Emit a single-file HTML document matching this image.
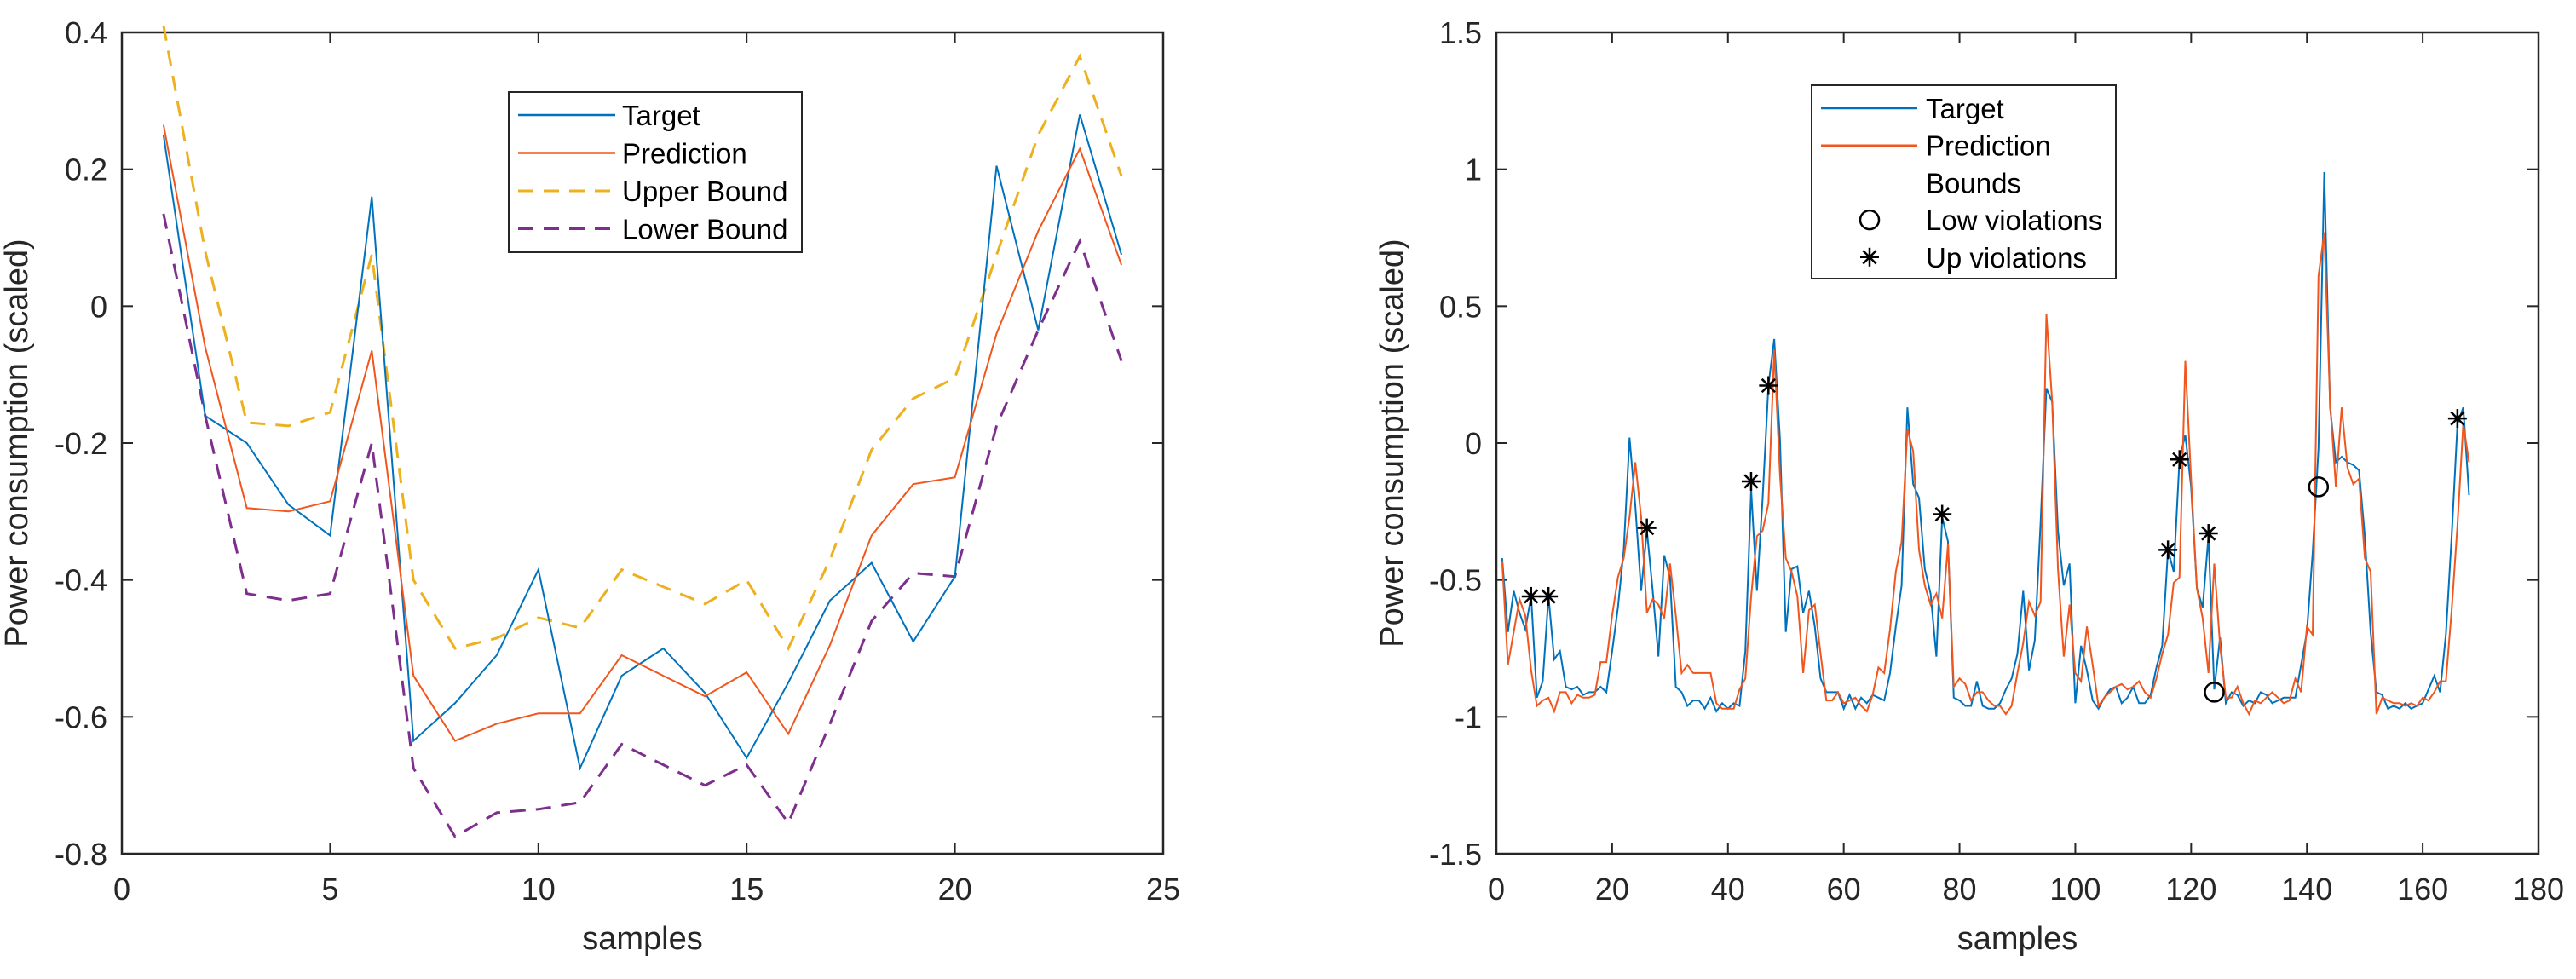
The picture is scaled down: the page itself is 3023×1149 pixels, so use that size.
<!DOCTYPE html>
<html><head><meta charset="utf-8"><style>
html,body{margin:0;padding:0;background:#fff;}
svg{display:block;font-family:"Liberation Sans",Arial,sans-serif;}
</style></head><body>
<svg id="fig" width="3023" height="1149" viewBox="0 0 3023 1149" xmlns="http://www.w3.org/2000/svg">
<rect width="3023" height="1149" fill="#fff"/>
<g id="left"></g>
<g id="right"></g>
</svg>
<script>
// ---- Left chart data ----
const leftSamples = [1,2,3,4,5,6,7,8,9,10,11,12,13,14,15,16,17,18,19,20,21,22,23,24];
const leftTarget = [0.25,-0.16,-0.2,-0.29,-0.335,0.16,-0.635,-0.58,-0.51,-0.385,-0.675,-0.54,-0.5,-0.565,-0.66,-0.55,-0.43,-0.375,-0.49,-0.395,0.205,-0.035,0.28,0.075];
const leftPrediction = [0.265,-0.06,-0.295,-0.3,-0.285,-0.065,-0.54,-0.635,-0.61,-0.595,-0.595,-0.51,-0.54,-0.57,-0.535,-0.625,-0.495,-0.335,-0.26,-0.25,-0.04,0.11,0.23,0.06];
const leftUpper = [0.41,0.08,-0.17,-0.175,-0.155,0.075,-0.4,-0.5,-0.485,-0.455,-0.47,-0.385,-0.41,-0.435,-0.4,-0.5,-0.37,-0.21,-0.135,-0.105,0.075,0.25,0.365,0.19];
const leftLower = [0.135,-0.16,-0.42,-0.43,-0.42,-0.2,-0.675,-0.775,-0.74,-0.735,-0.725,-0.64,-0.67,-0.7,-0.67,-0.755,-0.61,-0.46,-0.39,-0.395,-0.175,-0.035,0.095,-0.08];
const leftXTicks = [0,5,10,15,20,25];
const leftYTicks = [0.4,0.2,0,-0.2,-0.4,-0.6,-0.8];
const leftYLabels = ["0.4","0.2","0","-0.2","-0.4","-0.6","-0.8"];

// ---- Right chart data ----
const rightTarget = [-0.42,-0.69,-0.54,-0.62,-0.68,-0.56,-0.93,-0.87,-0.56,-0.79,-0.76,-0.89,-0.9,-0.89,-0.92,-0.91,-0.91,-0.89,-0.91,-0.76,
-0.6,-0.39,0.02,-0.23,-0.54,-0.32,-0.54,-0.78,-0.41,-0.49,-0.89,-0.91,-0.96,-0.94,-0.94,-0.97,-0.93,-0.98,-0.95,-0.97,
-0.95,-0.96,-0.76,-0.17,-0.54,-0.2,0.21,0.38,0.01,-0.69,-0.46,-0.45,-0.62,-0.54,-0.67,-0.86,-0.91,-0.91,-0.91,-0.97,
-0.92,-0.97,-0.93,-0.95,-0.92,-0.93,-0.94,-0.84,-0.67,-0.52,0.13,-0.15,-0.2,-0.46,-0.55,-0.78,-0.27,-0.36,-0.93,-0.94,
-0.96,-0.96,-0.87,-0.96,-0.97,-0.97,-0.95,-0.9,-0.86,-0.77,-0.54,-0.83,-0.72,-0.29,0.2,0.15,-0.32,-0.52,-0.44,-0.95,
-0.74,-0.83,-0.94,-0.97,-0.93,-0.9,-0.89,-0.95,-0.93,-0.89,-0.95,-0.95,-0.92,-0.82,-0.74,-0.39,-0.47,-0.06,0.03,-0.16,
-0.53,-0.6,-0.34,-0.9,-0.71,-0.95,-0.91,-0.92,-0.96,-0.94,-0.95,-0.91,-0.92,-0.95,-0.94,-0.93,-0.93,-0.93,-0.81,-0.69,
-0.4,-0.02,0.99,0.13,-0.07,-0.05,-0.07,-0.08,-0.1,-0.34,-0.69,-0.91,-0.92,-0.97,-0.96,-0.97,-0.95,-0.97,-0.96,-0.95,
-0.9,-0.85,-0.91,-0.7,-0.34,0.07,0.13,-0.19];
const rightPrediction = [-0.43,-0.81,-0.69,-0.57,-0.63,-0.83,-0.96,-0.94,-0.93,-0.98,-0.91,-0.91,-0.95,-0.92,-0.93,-0.93,-0.92,-0.8,-0.8,-0.63,
-0.49,-0.42,-0.27,-0.07,-0.27,-0.62,-0.57,-0.59,-0.64,-0.44,-0.63,-0.84,-0.81,-0.84,-0.84,-0.84,-0.84,-0.95,-0.97,-0.97,
-0.97,-0.9,-0.86,-0.56,-0.34,-0.32,-0.22,0.34,-0.12,-0.42,-0.47,-0.56,-0.84,-0.61,-0.59,-0.77,-0.94,-0.94,-0.91,-0.95,
-0.94,-0.93,-0.96,-0.98,-0.92,-0.82,-0.84,-0.68,-0.47,-0.36,0.05,-0.03,-0.39,-0.52,-0.59,-0.55,-0.64,-0.37,-0.89,-0.86,
-0.88,-0.94,-0.91,-0.91,-0.94,-0.96,-0.96,-0.99,-0.96,-0.84,-0.73,-0.58,-0.63,-0.58,0.47,0.15,-0.46,-0.78,-0.59,-0.84,
-0.87,-0.67,-0.81,-0.96,-0.93,-0.91,-0.89,-0.88,-0.9,-0.89,-0.87,-0.91,-0.93,-0.86,-0.77,-0.7,-0.51,-0.49,0.3,-0.13,
-0.53,-0.64,-0.84,-0.44,-0.74,-0.93,-0.93,-0.89,-0.95,-0.99,-0.94,-0.95,-0.93,-0.91,-0.93,-0.95,-0.94,-0.86,-0.91,-0.67,
-0.7,0.61,0.77,0.15,-0.16,0.13,-0.09,-0.15,-0.13,-0.42,-0.47,-0.99,-0.93,-0.94,-0.95,-0.95,-0.96,-0.95,-0.96,-0.93,
-0.94,-0.91,-0.87,-0.87,-0.61,-0.3,0.07,-0.07];
const upViolationX = [6,9,26,44,47,77,116,118,123,166];
const upViolationY = [-0.56,-0.56,-0.31,-0.14,0.21,-0.26,-0.39,-0.06,-0.33,0.09];
const lowViolationX = [124,142];
const lowViolationY = [-0.91,-0.16];
const rightXTicks = [0,20,40,60,80,100,120,140,160,180];
const rightYTicks = [1.5,1,0.5,0,-0.5,-1,-1.5];
const rightYLabels = ["1.5","1","0.5","0","-0.5","-1","-1.5"];

const NS = "http://www.w3.org/2000/svg";
function mk(parent, tag, attrs){ const e=document.createElementNS(NS,tag); for(const k in attrs) e.setAttribute(k,attrs[k]); parent.appendChild(e); return e; }

const BLUE="#0072BD", ORANGE="#F0561D", YELLOW="#EDB120", PURPLE="#7E2F8E";

function axes(g, x0,x1,y0,y1, xmin,xmax,ymin,ymax, xt, yt, ytl, titleX){
  const sx = v => x0 + (v-xmin)/(xmax-xmin)*(x1-x0);
  const sy = v => y1 - (v-ymin)/(ymax-ymin)*(y1-y0);
  const box = mk(g,'rect',{x:x0,y:y0,width:x1-x0,height:y1-y0,fill:'none',stroke:'#262626','stroke-width':2.5});
  
  
  xt.forEach(v=>{
    const X=sx(v);
    const t=mk(g,'line',{x1:X,x2:X,y1:y1,y2:y1-13,stroke:'#262626','stroke-width':2});
    
    
    mk(g,'line',{x1:X,x2:X,y1:y0,y2:y0+13,stroke:'#262626','stroke-width':2});
    const l=mk(g,'text',{x:X,y:y1+54,'text-anchor':'middle','font-size':36,fill:'#262626'}); l.textContent=String(v);
    
    
  });
  yt.forEach((v,i)=>{
    const Y=sy(v);
    const t=mk(g,'line',{x1:x0,x2:x0+13,y1:Y,y2:Y,stroke:'#262626','stroke-width':2});
    
    
    mk(g,'line',{x1:x1,x2:x1-13,y1:Y,y2:Y,stroke:'#262626','stroke-width':2});
    const l=mk(g,'text',{x:x0-17,y:Y+13,'text-anchor':'end','font-size':36,fill:'#262626'}); l.textContent=ytl[i];
    
    
  });
  const xl=mk(g,'text',{x:(x0+x1)/2,y:y1+112,'text-anchor':'middle','font-size':38,fill:'#262626'}); xl.textContent='samples';
  
  
  const yl=mk(g,'text',{x:0,y:0,'text-anchor':'middle','font-size':38,fill:'#262626',transform:`translate(${titleX},${(y0+y1)/2}) rotate(-90)`}); yl.textContent='Power consumption (scaled)';
  
  
  return {sx,sy};
}
function poly(g, xs, ys, s, color, w, dash, name){
  const pts = ys.map((v,i)=>s.sx(xs[i]).toFixed(1)+','+s.sy(v).toFixed(1)).join(' ');
  const a={points:pts,fill:'none',stroke:color,'stroke-width':w,'stroke-linejoin':'miter'};
  if(dash) a['stroke-dasharray']=dash;
  const p=mk(g,'polyline',a);
  
  
}
function star(g,X,Y,r){
  const s=mk(g,'g',{stroke:'#000','stroke-width':2.5});
  
  
  mk(s,'line',{x1:X-r,x2:X+r,y1:Y,y2:Y});
  mk(s,'line',{x1:X,x2:X,y1:Y-r,y2:Y+r});
  const d=r*0.7;
  mk(s,'line',{x1:X-d,x2:X+d,y1:Y-d,y2:Y+d});
  mk(s,'line',{x1:X-d,x2:X+d,y1:Y+d,y2:Y-d});
}
function circ(g,X,Y){
  const c=mk(g,'ellipse',{cx:X,cy:Y,rx:11,ry:11,fill:'none',stroke:'#000','stroke-width':2.5});
  
  
}

// Left chart
const L=document.getElementById('left');
const sl=axes(L,143,1365,38,1002,0,25,-0.8,0.4,leftXTicks,leftYTicks,leftYLabels,32);
poly(L,leftSamples,leftUpper,sl,YELLOW,3,'18,12','upper-bound-line');
poly(L,leftSamples,leftLower,sl,PURPLE,3,'18,12','lower-bound-line');
poly(L,leftSamples,leftTarget,sl,BLUE,2,null,'target-line');
poly(L,leftSamples,leftPrediction,sl,ORANGE,2,null,'prediction-line');
// left legend
const lg=mk(L,'g',{});  
mk(lg,'rect',{x:597,y:108,width:344,height:188,fill:'#fff',stroke:'#262626','stroke-width':2});
[['Target',BLUE,null],['Prediction',ORANGE,null],['Upper Bound',YELLOW,'18,12'],['Lower Bound',PURPLE,'18,12']].forEach((r,i)=>{
  const Y=135+i*44.5;
  const a={x1:608,x2:722,y1:Y,y2:Y,stroke:r[1],'stroke-width':r[2]?3:2.5}; if(r[2]) a['stroke-dasharray']=r[2];
  mk(lg,'line',a);
  const t=mk(lg,'text',{x:730,y:Y+12,'font-size':33,fill:'#000'}); t.textContent=r[0];
  
  
});

// Right chart
const R=document.getElementById('right');
const sr=axes(R,1756,2979,38,1002,0,180,-1.5,1.5,rightXTicks,rightYTicks,rightYLabels,1646);
const rx = rightTarget.map((v,i)=>i+1);
poly(R,rx,rightTarget,sr,BLUE,2,null,'target-line');
poly(R,rx,rightPrediction,sr,ORANGE,2,null,'prediction-line');
upViolationX.forEach((x,i)=>star(R,sr.sx(x),sr.sy(upViolationY[i]),11));
lowViolationX.forEach((x,i)=>circ(R,sr.sx(x),sr.sy(lowViolationY[i])));
// right legend
const rg=mk(R,'g',{});  
mk(rg,'rect',{x:2126,y:100,width:357,height:227,fill:'#fff',stroke:'#262626','stroke-width':2});
const rows=['Target','Prediction','Bounds','Low violations','Up violations'];
rows.forEach((r,i)=>{
  const Y=127+i*43.7;
  if(i===0) mk(rg,'line',{x1:2137,x2:2250,y1:Y,y2:Y,stroke:BLUE,'stroke-width':2.5});
  if(i===1) mk(rg,'line',{x1:2137,x2:2250,y1:Y,y2:Y,stroke:ORANGE,'stroke-width':2.5});
  if(i===3) circ(rg,2194,Y);
  if(i===4) star(rg,2194,Y,11);
  const t=mk(rg,'text',{x:2260,y:Y+12,'font-size':33,fill:'#000'}); t.textContent=r;
  
  
});
</script>
</body></html>
